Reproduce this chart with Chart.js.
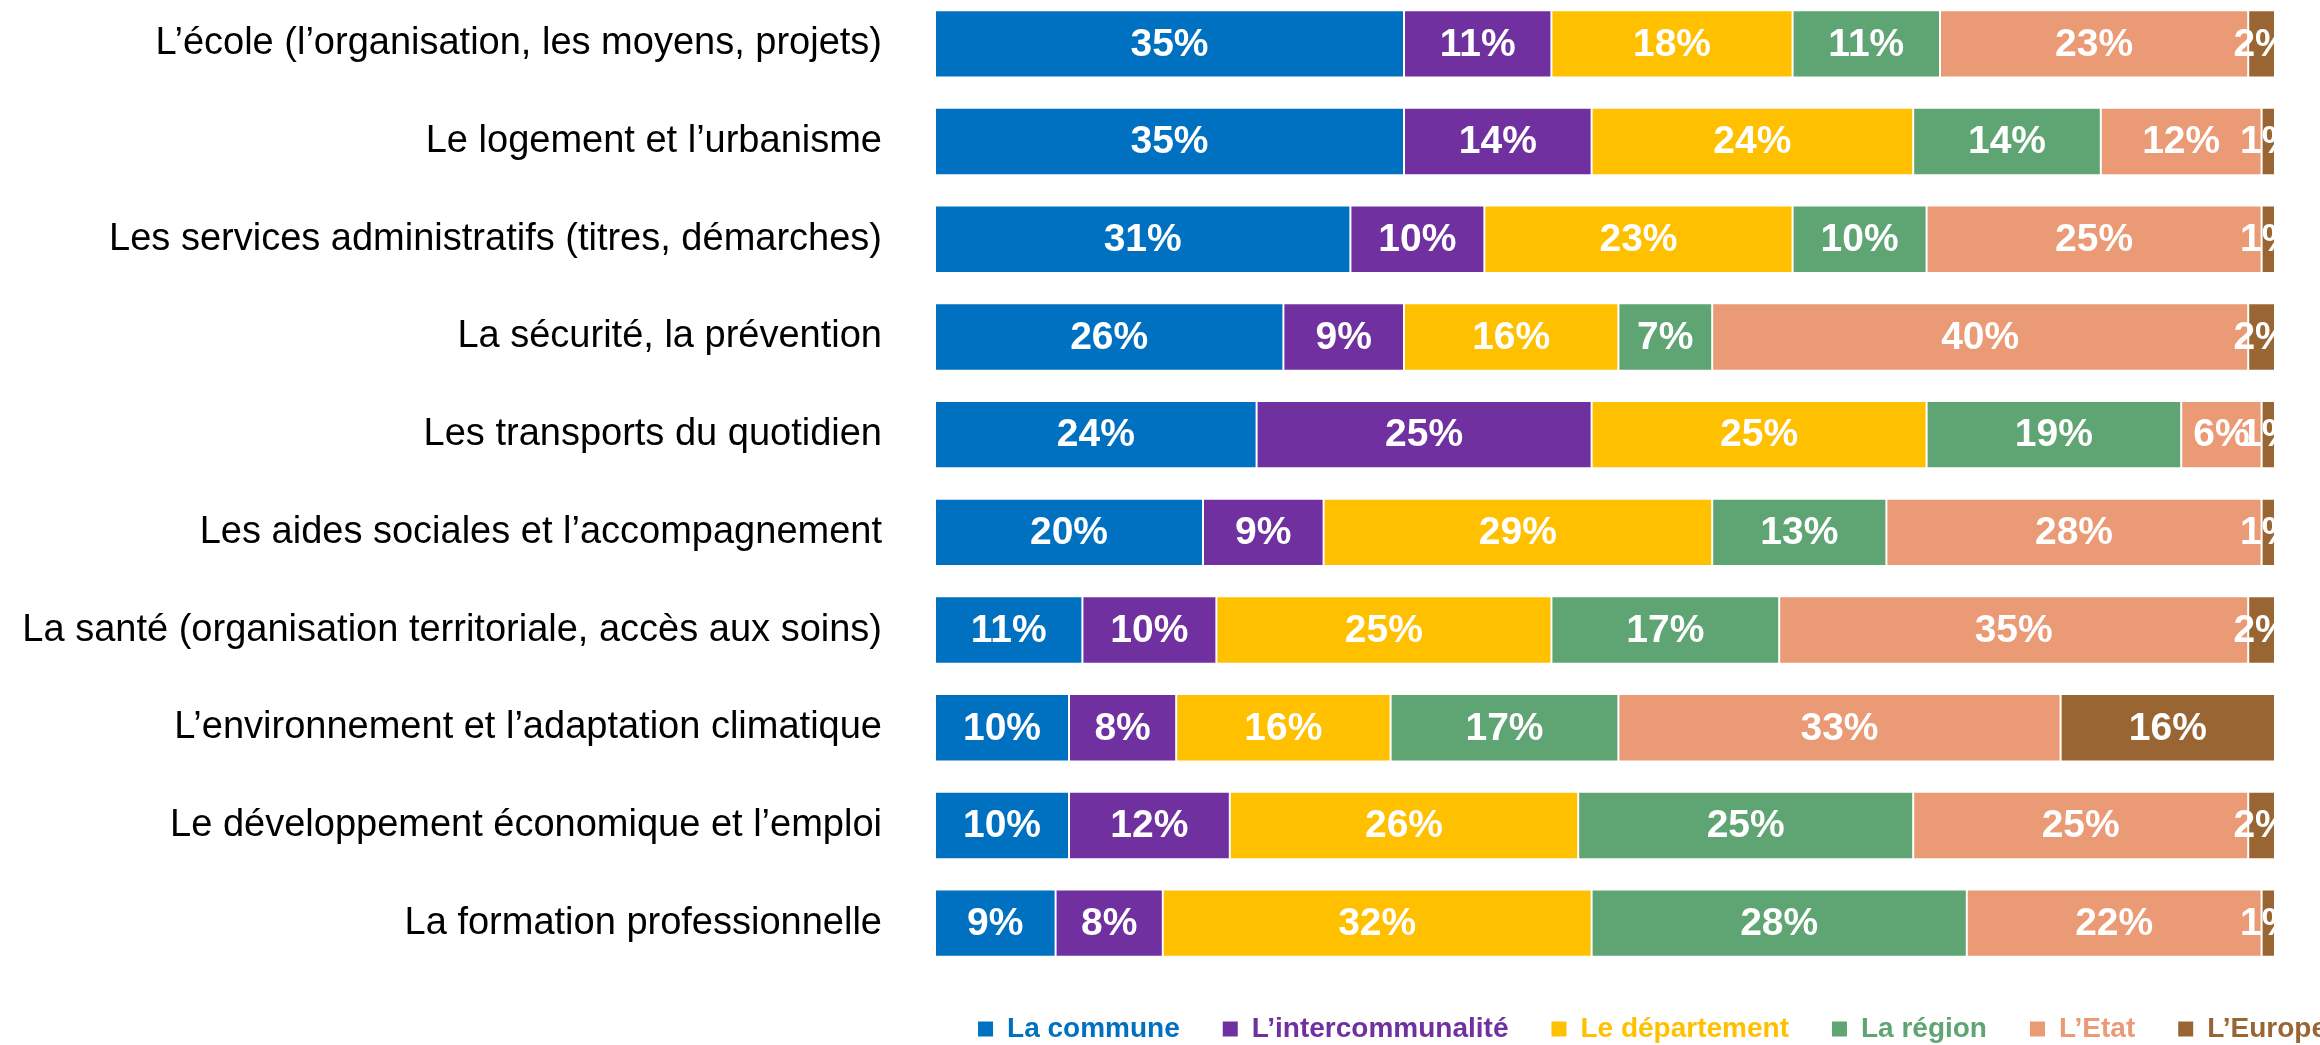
<!DOCTYPE html>
<html>
<head>
<meta charset="utf-8">
<script src="https://cdn.jsdelivr.net/npm/chart.js@4/dist/chart.umd.min.js"></script>
<style>
    html, body { margin: 0; padding: 0; background: #fff; }
    #wrap { position: relative; width: 2320px; height: 1045px; overflow: hidden; }
    #chart { position: absolute; left: 0; top: -5px; }
</style>
</head>
<body>
<div id="wrap"><canvas id="chart" width="2320" height="1060"></canvas></div>
<script>
const categories = [
    'L’école (l’organisation, les moyens, projets)',
    'Le logement et l’urbanisme',
    'Les services administratifs (titres, démarches)',
    'La sécurité, la prévention',
    'Les transports du quotidien',
    'Les aides sociales et l’accompagnement',
    'La santé (organisation territoriale, accès aux soins)',
    'L’environnement et l’adaptation climatique',
    'Le développement économique et l’emploi',
    'La formation professionnelle'
];
const seriesNames = ['La commune', 'L’intercommunalité', 'Le département', 'La région', 'L’Etat', 'L’Europe'];
const commune = [35, 35, 31, 26, 24, 20, 11, 10, 10, 9];
const intercommunalite = [11, 14, 10, 9, 25, 9, 10, 8, 12, 8];
const departement = [18, 24, 23, 16, 25, 29, 25, 16, 26, 32];
const region = [11, 14, 10, 7, 19, 13, 17, 17, 25, 28];
const etat = [23, 12, 25, 40, 6, 28, 35, 33, 25, 22];
const europe = [2, 1, 1, 2, 1, 1, 2, 16, 2, 1];

const colors = ['#0070C0', '#7030A0', '#FFC000', '#5FA573', '#EB9A76', '#996633'];
const seriesValues = [commune, intercommunalite, departement, region, etat, europe];

// white percentage labels centred on each segment, clipped to the plot
const barLabels = {
    id: 'barLabels',
    afterDatasetsDraw(chart) {
        const { ctx, chartArea } = chart;
        ctx.save();
        ctx.beginPath();
        ctx.rect(chartArea.left, chartArea.top, chartArea.right - chartArea.left, chartArea.bottom - chartArea.top);
        ctx.clip();
        ctx.font = 'bold 39px "Liberation Sans", Arial, sans-serif';
        ctx.fillStyle = '#fff';
        ctx.textAlign = 'center';
        ctx.textBaseline = 'middle';
        chart.data.datasets.forEach((ds, i) => {
            chart.getDatasetMeta(i).data.forEach((bar, j) => {
                ctx.fillText(ds.data[j] + '%', (bar.x + bar.base) / 2, bar.y + 1);
            });
        });
        ctx.restore();
    }
};

// the legend row runs right up to the page edge, past the end of the bars
const legendShift = {
    id: 'legendShift',
    afterLayout(chart) {
        if (chart.legend) {
            chart.legend.left += 95;
            chart.legend.right += 95;
        }
    }
};

new Chart(document.getElementById('chart').getContext('2d'), {
    type: 'bar',
    data: {
        labels: categories,
        datasets: seriesNames.map((name, i) => ({
            label: name,
            data: seriesValues[i],
            backgroundColor: colors[i],
            borderColor: 'rgba(255,255,255,0.7)',
            borderWidth: 1,
            borderSkipped: false,
            categoryPercentage: 1,
            barPercentage: 0.69
        }))
    },
    options: {
        indexAxis: 'y',
        responsive: false,
        animation: false,
        devicePixelRatio: 1,
        layout: { padding: { left: 0, right: 45, top: 0, bottom: 2 } },
        scales: {
            x: { stacked: true, min: 0, max: 100, display: false },
            y: {
                stacked: true,
                grid: { display: false, drawTicks: false },
                border: { display: false },
                ticks: {
                    color: '#000',
                    padding: 53,
                    font: { family: '"Liberation Sans", Arial, sans-serif', size: 38 }
                },
                afterFit(scale) {
                    scale.width = 935;
                    scale.paddingTop = 0;
                    scale.paddingBottom = 0;
                }
            }
        },
        plugins: {
            tooltip: { enabled: false },
            legend: {
                position: 'bottom',
                align: 'end',
                labels: {
                    boxWidth: 15,
                    boxHeight: 15,
                    padding: 43,
                    font: { family: '"Liberation Sans", Arial, sans-serif', size: 28, weight: 'bold' },
                    generateLabels(chart) {
                        const items = Chart.defaults.plugins.legend.labels.generateLabels(chart);
                        items.forEach(item => {
                            item.fontColor = item.fillStyle;
                            item.strokeStyle = item.fillStyle;
                            item.lineWidth = 0;
                        });
                        return items;
                    }
                }
            }
        }
    },
    plugins: [barLabels, legendShift]
});
</script>
</body>
</html>
